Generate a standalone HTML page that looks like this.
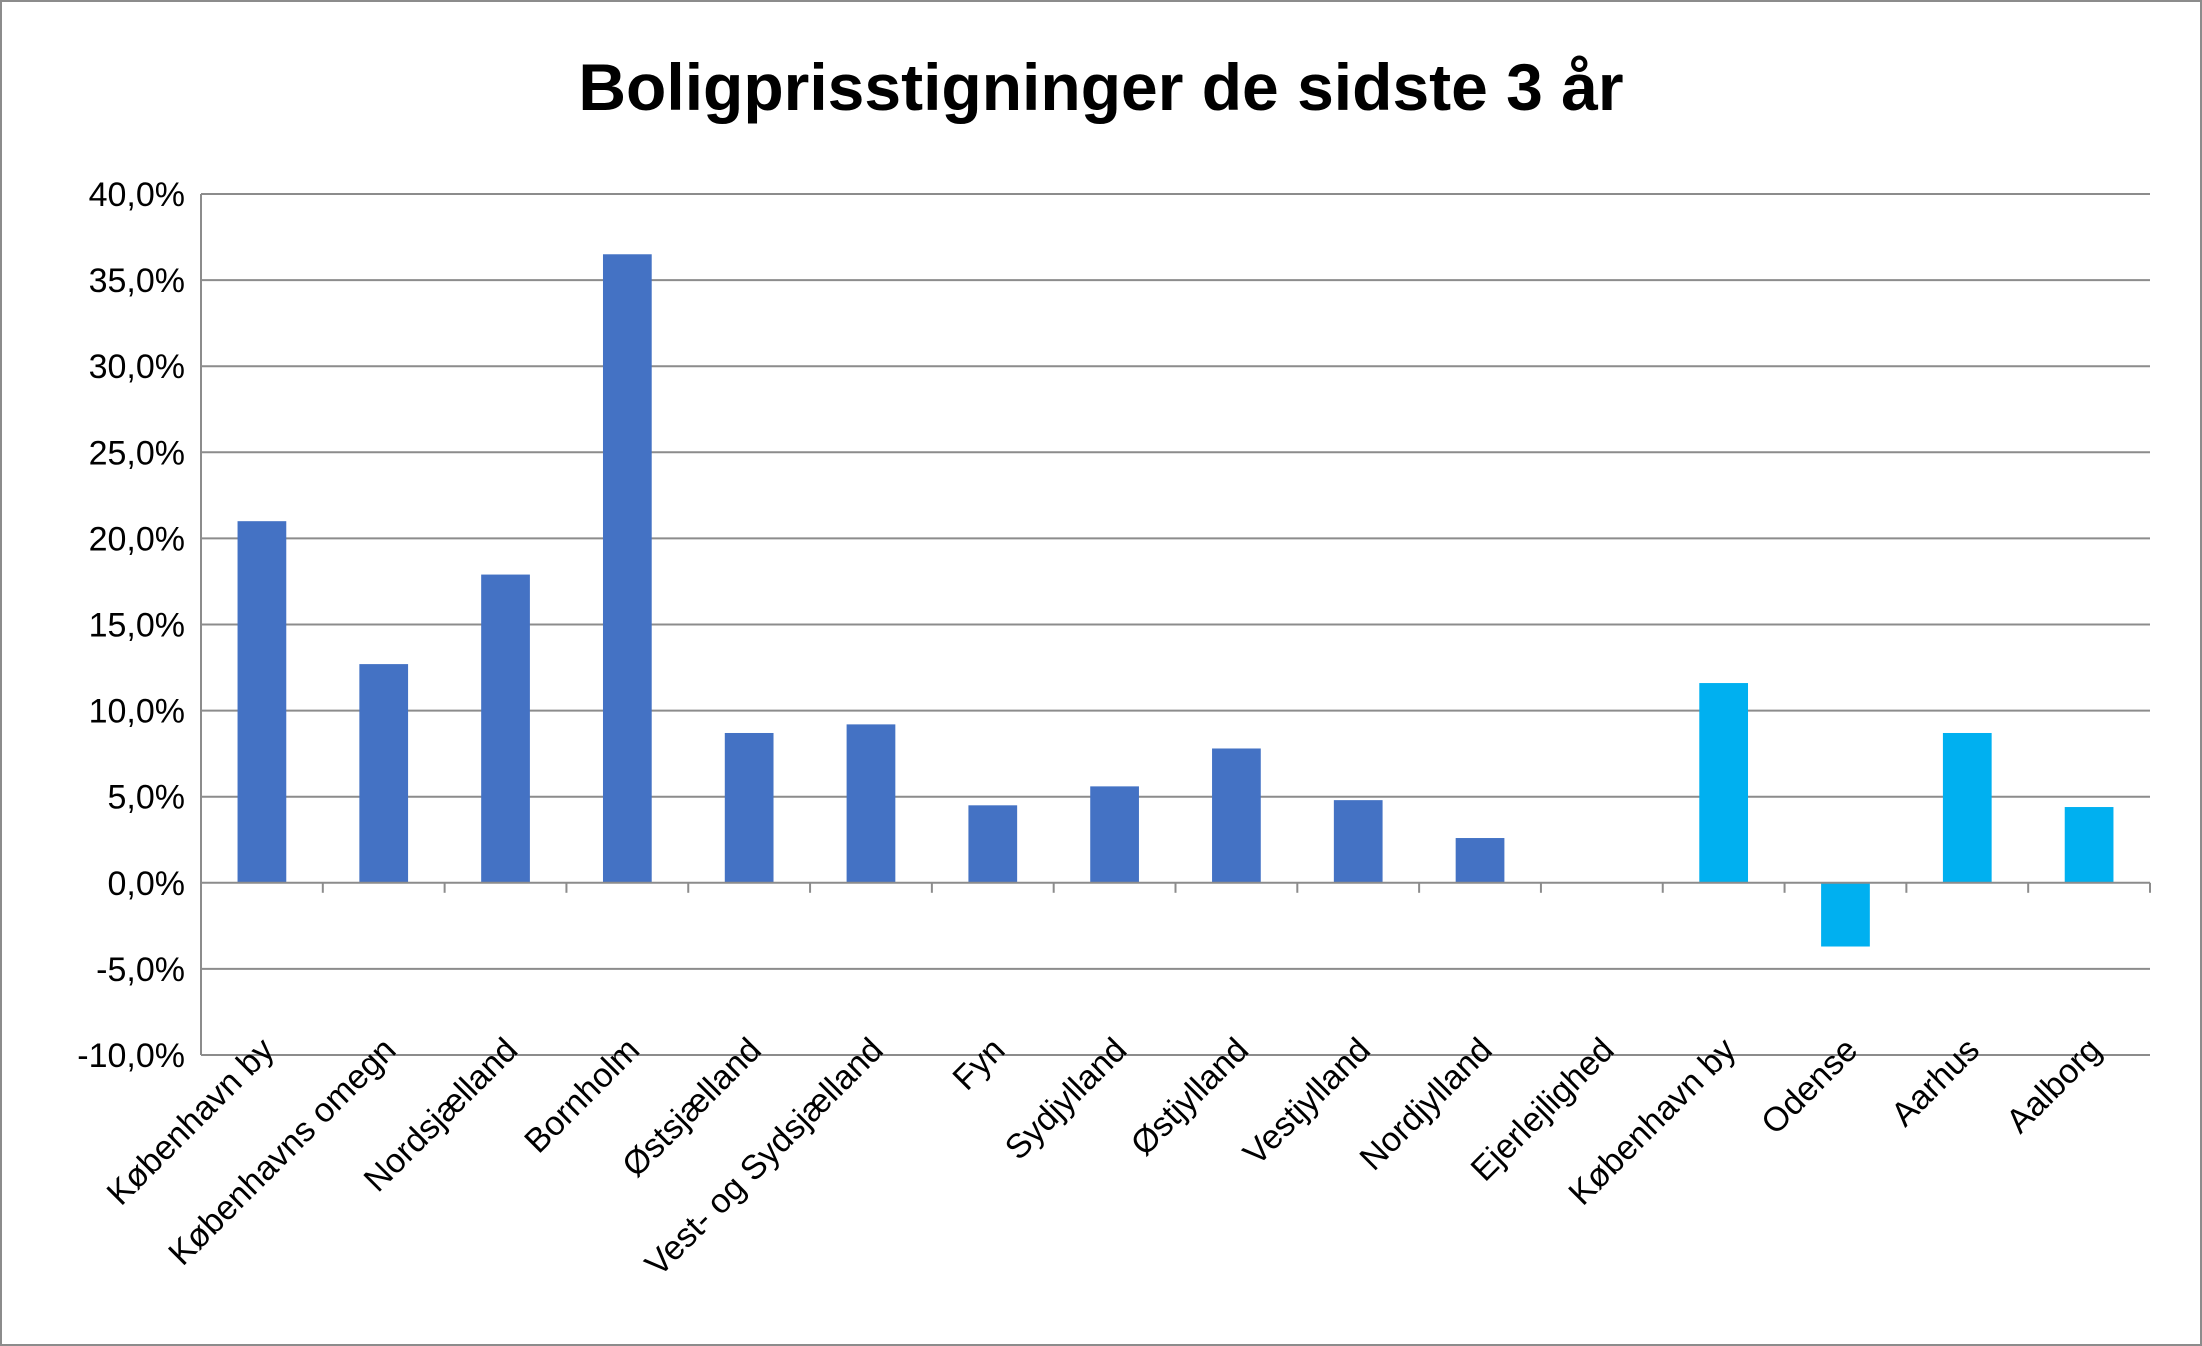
<!DOCTYPE html>
<html><head><meta charset="utf-8"><style>
html,body{margin:0;padding:0;background:#fff}
svg{display:block;font-family:"Liberation Sans",sans-serif}
</style></head><body>
<svg id="chart" width="2202" height="1346" viewBox="0 0 2202 1346" xmlns="http://www.w3.org/2000/svg">
<rect x="1" y="1" width="2200" height="1344" fill="#fff" stroke="#8c8c8c" stroke-width="2"/>
<text x="1101" y="110" text-anchor="middle" font-size="66" font-weight="bold" fill="#000">Boligprisstigninger de sidste 3 år</text>
<g id="grid"></g>
<g id="bars"></g>
<g id="axes"></g>
</svg>
<script>
const categories=["København by","Københavns omegn","Nordsjælland","Bornholm","Østsjælland","Vest- og Sydsjælland","Fyn","Sydjylland","Østjylland","Vestjylland","Nordjylland","Ejerlejlighed","København by","Odense","Aarhus","Aalborg"];
const values=[21.0,12.7,17.9,36.5,8.7,9.2,4.5,5.6,7.8,4.8,2.6,null,11.6,-3.7,8.7,4.4];
const seriesGroup=[0,0,0,0,0,0,0,0,0,0,0,0,1,1,1,1];
const ticks=[-10,-5,0,5,10,15,20,25,30,35,40];
const tickLabels=["-10,0%","-5,0%","0,0%","5,0%","10,0%","15,0%","20,0%","25,0%","30,0%","35,0%","40,0%"];
const colors=["#4472C4","#00B0F0"];
const NS="http://www.w3.org/2000/svg";
const L=201,R=2150,T=194,B=1055,ymin=-10,ymax=40;
const y=v=>B-(v-ymin)/(ymax-ymin)*(B-T);
const cw=(R-L)/categories.length;
const x=i=>L+cw*i;
function mk(tag,attrs,parent){const e=document.createElementNS(NS,tag);for(const k in attrs)e.setAttribute(k,attrs[k]);parent.appendChild(e);return e;}
const grid=document.getElementById('grid'),bars=document.getElementById('bars'),axes=document.getElementById('axes');
ticks.forEach((t,i)=>{
 if(t!==0){const g=mk('line',{x1:L,x2:R,y1:y(t),y2:y(t),stroke:'#8c8c8c','stroke-width':2},grid);
 }
 const tx=mk('text',{x:L-16,y:y(t)+12,'text-anchor':'end','font-size':34,fill:'#000'},axes);
 tx.textContent=tickLabels[i];
 
});
values.forEach((v,i)=>{
 if(v===null)return;
 const bw=cw*0.4,bx=x(i)+(cw-bw)/2;
 const r=mk('rect',{x:bx,y:Math.min(y(v),y(0)),width:bw,height:Math.abs(y(v)-y(0)),fill:colors[seriesGroup[i]]},bars);
 
});
const ya=mk('line',{x1:L,x2:L,y1:T,y2:B,stroke:'#8c8c8c','stroke-width':2},axes);

const xa=mk('line',{x1:L,x2:R,y1:y(0),y2:y(0),stroke:'#8c8c8c','stroke-width':2},axes);

for(let i=0;i<=categories.length;i++){
 const tk=mk('line',{x1:x(i),x2:x(i),y1:y(0),y2:y(0)+10,stroke:'#8c8c8c','stroke-width':2},axes);
 
}
categories.forEach((c,i)=>{
 const cx=x(i)+cw/2+14,cy=1052;
 const t=mk('text',{x:cx,y:cy,'text-anchor':'end','font-size':34,fill:'#000',transform:`rotate(-45 ${cx} ${cy})`},axes);
 t.textContent=c;
 
});
</script>
</body></html>
